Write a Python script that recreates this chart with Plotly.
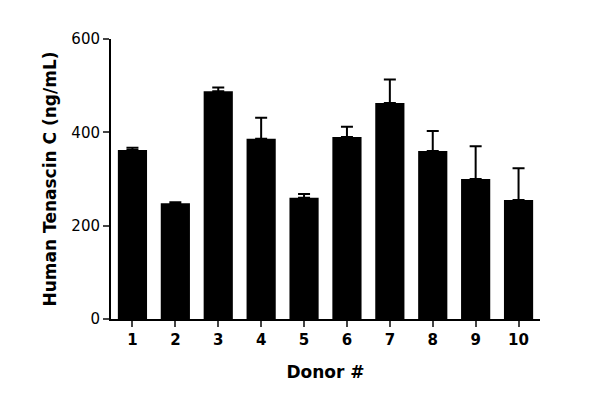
import plotly.graph_objects as go

donors = ["1","2","3","4","5","6","7","8","9","10"]
means = [362, 248, 488, 386, 260, 390, 463, 360, 300, 255]
errs = [5, 2, 8, 45, 8, 22, 50, 43, 70, 68]

fig = go.Figure(go.Bar(
    x=donors, y=means, marker=dict(color="black", line=dict(width=0)), width=0.68,
    error_y=dict(type="data", symmetric=False, array=errs, arrayminus=[0]*len(errs),
                 color="black", thickness=2, width=6)))
fig.update_layout(
    width=600, height=414, plot_bgcolor="white", paper_bgcolor="white",
    margin=dict(l=103, r=68, t=31, b=103), showlegend=False,
    font=dict(family="DejaVu Sans", size=15, color="black"),
    bargap=0.32)
fig.update_xaxes(title=dict(text="<b>Donor #</b>", font=dict(size=17), standoff=18),
                 showline=True, linecolor="black", linewidth=2, ticks="outside",
                 ticklen=6, tickwidth=2, tickfont=dict(size=15), tickprefix="<b>", ticksuffix="</b>")
fig.update_yaxes(title=dict(text="<b>Human Tenascin C (ng/mL)</b>", font=dict(size=17), standoff=10),
                 range=[0, 600], tickvals=[0, 200, 400, 600], showline=True, linecolor="black",
                 linewidth=2, ticks="outside", ticklen=6, tickwidth=2, showgrid=False, zeroline=False,
                 tickprefix="<b>", ticksuffix="</b>")
fig.write_html("out.html")
